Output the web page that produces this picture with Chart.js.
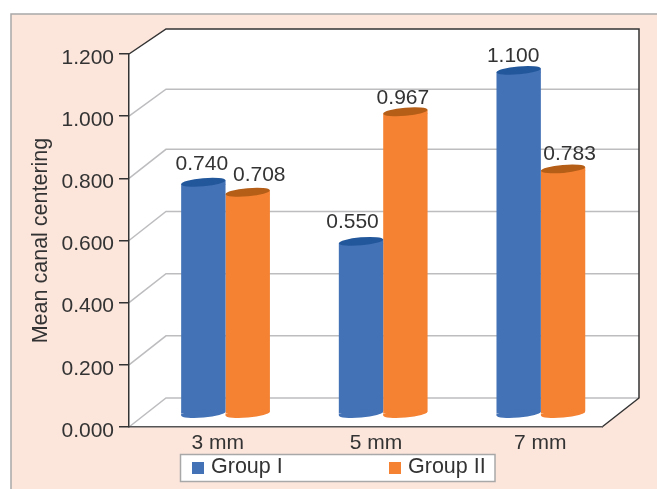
<!DOCTYPE html>
<html>
<head>
<meta charset="utf-8">
<title>Mean canal centering</title>
<script src="https://cdn.jsdelivr.net/npm/chart.js@4/dist/chart.umd.min.js"></script>
<style>
  html, body { margin: 0; padding: 0; background: #fff; }
  canvas { display: block; }
</style>
</head>
<body>
<canvas id="chart" width="657" height="489"></canvas>
<script>
const levels = ['3 mm', '5 mm', '7 mm'];
const groupOne = [0.74, 0.55, 1.1];
const groupTwo = [0.708, 0.967, 0.783];

const FONT = { family: '"Liberation Sans", Arial, sans-serif', size: 21 };
const WIDE_FONT = { family: FONT.family, size: 21.5 };
const INK = '#333333';
const PANEL = '#fce6dc';

// the bars stand halfway into the box, the back wall sits further behind
const BAR_SHIFT = { x: 17.7, y: -13 };
const LID_LIFT = 1.7;
const WALL_SHIFT_X = 37;
const wallY = (y, v) => y - 29 + Math.max(0, (v - 0.8) * 10);

// hand placed labels, same order as the categories
const valueLabelNudgeX = [[-1.5, -8.5, -5.5], [11.5, -2.5, 6.5]];
const valueLabelLift = [[17.8, 18.9, 13.9], [16.8, 13.3, 14.4]];
const levelLabelNudge = [10, 10.5, 17];

function tiltedEllipse(ctx, x, y, rx, ry, fill) {
  ctx.beginPath();
  ctx.ellipse(x, y, rx, ry, -5 * Math.PI / 180, 0, Math.PI * 2);
  ctx.fillStyle = fill;
  ctx.fill();
}

const box3d = {
  id: 'box3d',
  beforeDraw(chart) {
    const { ctx, chartArea: a, scales: { y } } = chart;
    const top = wallY(a.top, 1.2);
    const floor = wallY(a.bottom, 0);
    const back = a.right + WALL_SHIFT_X;
    ctx.save();
    ctx.fillStyle = '#fff';
    ctx.fillRect(0, 0, chart.width, chart.height);

    // outer panel runs off the right and bottom edges
    ctx.fillStyle = PANEL;
    ctx.strokeStyle = '#a8a8a8';
    ctx.lineWidth = 1.5;
    ctx.beginPath();
    ctx.rect(11, 14, chart.width + 20, chart.height + 20);
    ctx.fill();
    ctx.stroke();

    ctx.fillStyle = '#fff';
    ctx.beginPath();
    ctx.moveTo(a.left, a.top);
    ctx.lineTo(a.left + WALL_SHIFT_X, top);
    ctx.lineTo(back, top);
    ctx.lineTo(back, floor);
    ctx.lineTo(a.right, a.bottom);
    ctx.lineTo(a.left, a.bottom);
    ctx.closePath();
    ctx.fill();

    // grid lines wrap from the side wall on to the back wall
    ctx.strokeStyle = '#bdbdc0';
    ctx.lineWidth = 1.5;
    y.ticks.slice(0, -1).forEach((t) => {
      const py = y.getPixelForValue(t.value);
      ctx.beginPath();
      ctx.moveTo(a.left, py);
      ctx.lineTo(a.left + WALL_SHIFT_X, wallY(py, t.value));
      ctx.lineTo(back, wallY(py, t.value));
      ctx.stroke();
    });

    ctx.strokeStyle = INK;
    ctx.beginPath();
    ctx.moveTo(a.left, a.top);
    ctx.lineTo(a.left + WALL_SHIFT_X, top);
    ctx.lineTo(back, top);
    ctx.lineTo(back, floor);
    ctx.lineTo(a.right, a.bottom);
    ctx.stroke();
    ctx.restore();
  },
  beforeDatasetDraw(chart) {
    chart.ctx.save();
    chart.ctx.translate(BAR_SHIFT.x, BAR_SHIFT.y);
  },
  afterDatasetDraw(chart) {
    chart.ctx.restore();
  },
  afterDatasetsDraw(chart) {
    const { ctx, data, scales: { x, y } } = chart;
    ctx.save();
    ctx.font = `${FONT.size}px ${FONT.family}`;
    ctx.textAlign = 'center';
    ctx.textBaseline = 'middle';

    // cylinder ends, rounded bottoms first and then the darker lids
    data.datasets.forEach((ds, d) => {
      chart.getDatasetMeta(d).data.forEach((bar) => {
        const cx = bar.x + BAR_SHIFT.x;
        const cy = y.getPixelForValue(0) + BAR_SHIFT.y - 0.5;
        const rx = bar.width / 2;
        ctx.fillStyle = ds.backgroundColor;
        ctx.fillRect(cx - rx, cy, rx / 2, 2);
        tiltedEllipse(ctx, cx, cy, rx, 4, ds.backgroundColor);
      });
    });
    data.datasets.forEach((ds, d) => {
      chart.getDatasetMeta(d).data.forEach((bar, i) => {
        const cx = bar.x + BAR_SHIFT.x;
        const rectTop = bar.y + BAR_SHIFT.y;
        const cy = rectTop - LID_LIFT;
        const rx = bar.width / 2;
        // wedge of body colour under the raised side of the lid
        ctx.fillStyle = ds.backgroundColor;
        ctx.beginPath();
        ctx.moveTo(cx - rx, rectTop + 0.5);
        ctx.lineTo(cx + rx, cy - 2);
        ctx.lineTo(cx + rx, rectTop + 0.5);
        ctx.closePath();
        ctx.fill();
        tiltedEllipse(ctx, cx, cy, rx, 4, ds.lidColor);
        ctx.fillStyle = INK;
        ctx.fillText(ds.data[i].toFixed(3), cx + valueLabelNudgeX[d][i], cy - valueLabelLift[d][i]);
      });
    });

    levels.forEach((label, i) => {
      ctx.fillStyle = INK;
      ctx.fillText(label, x.getPixelForValue(i) + levelLabelNudge[i], 443.7);
    });

    // legend box under the axis
    ctx.fillStyle = '#fff';
    ctx.strokeStyle = '#a8a8a8';
    ctx.lineWidth = 1.5;
    ctx.fillRect(180.5, 454.5, 314.5, 27);
    ctx.strokeRect(180.5, 454.5, 314.5, 27);
    ctx.textAlign = 'left';
    ctx.font = `${WIDE_FONT.size}px ${WIDE_FONT.family}`;
    data.datasets.forEach((ds, d) => {
      const left = d === 0 ? 192 : 389;
      ctx.fillStyle = ds.backgroundColor;
      ctx.fillRect(left, 462, 12, 12);
      ctx.fillStyle = INK;
      ctx.fillText(ds.label, left + 19, 467.5);
    });
    ctx.restore();
  },
};

new Chart(document.getElementById('chart').getContext('2d'), {
  type: 'bar',
  data: {
    labels: levels,
    datasets: [
      { label: 'Group I', data: groupOne, backgroundColor: '#4472b6', lidColor: '#22579b', clip: false },
      { label: 'Group II', data: groupTwo, backgroundColor: '#f58233', lidColor: '#b55e17', clip: false },
    ],
  },
  options: {
    responsive: false,
    animation: false,
    categoryPercentage: 0.563,
    barPercentage: 1,
    borderSkipped: false,
    borderRadius: { topLeft: 0, topRight: 0, bottomLeft: 0, bottomRight: 3 },
    layout: { padding: { left: 0, top: 54, right: 55, bottom: 62 } },
    plugins: { legend: { display: false }, tooltip: { enabled: false } },
    scales: {
      x: {
        afterFit(scale) {
          scale.height = 0;
        },
        grid: { display: false },
        border: { color: '#555555', width: 1.5 },
        ticks: { display: false },
      },
      y: {
        min: 0,
        max: 1.2,
        afterFit(scale) {
          scale.width = 129;
        },
        grid: { drawOnChartArea: false, color: INK, lineWidth: 1.5, tickLength: 10 },
        border: { color: INK, width: 1.5 },
        ticks: {
          stepSize: 0.2,
          color: INK,
          font: FONT,
          padding: 5,
          labelOffset: 4,
          callback: (v) => Number(v).toFixed(3),
        },
        title: {
          display: true,
          text: 'Mean canal centering',
          color: INK,
          font: WIDE_FONT,
          padding: { top: 28.5, bottom: 0 },
        },
      },
    },
  },
  plugins: [box3d],
});
</script>
</body>
</html>
